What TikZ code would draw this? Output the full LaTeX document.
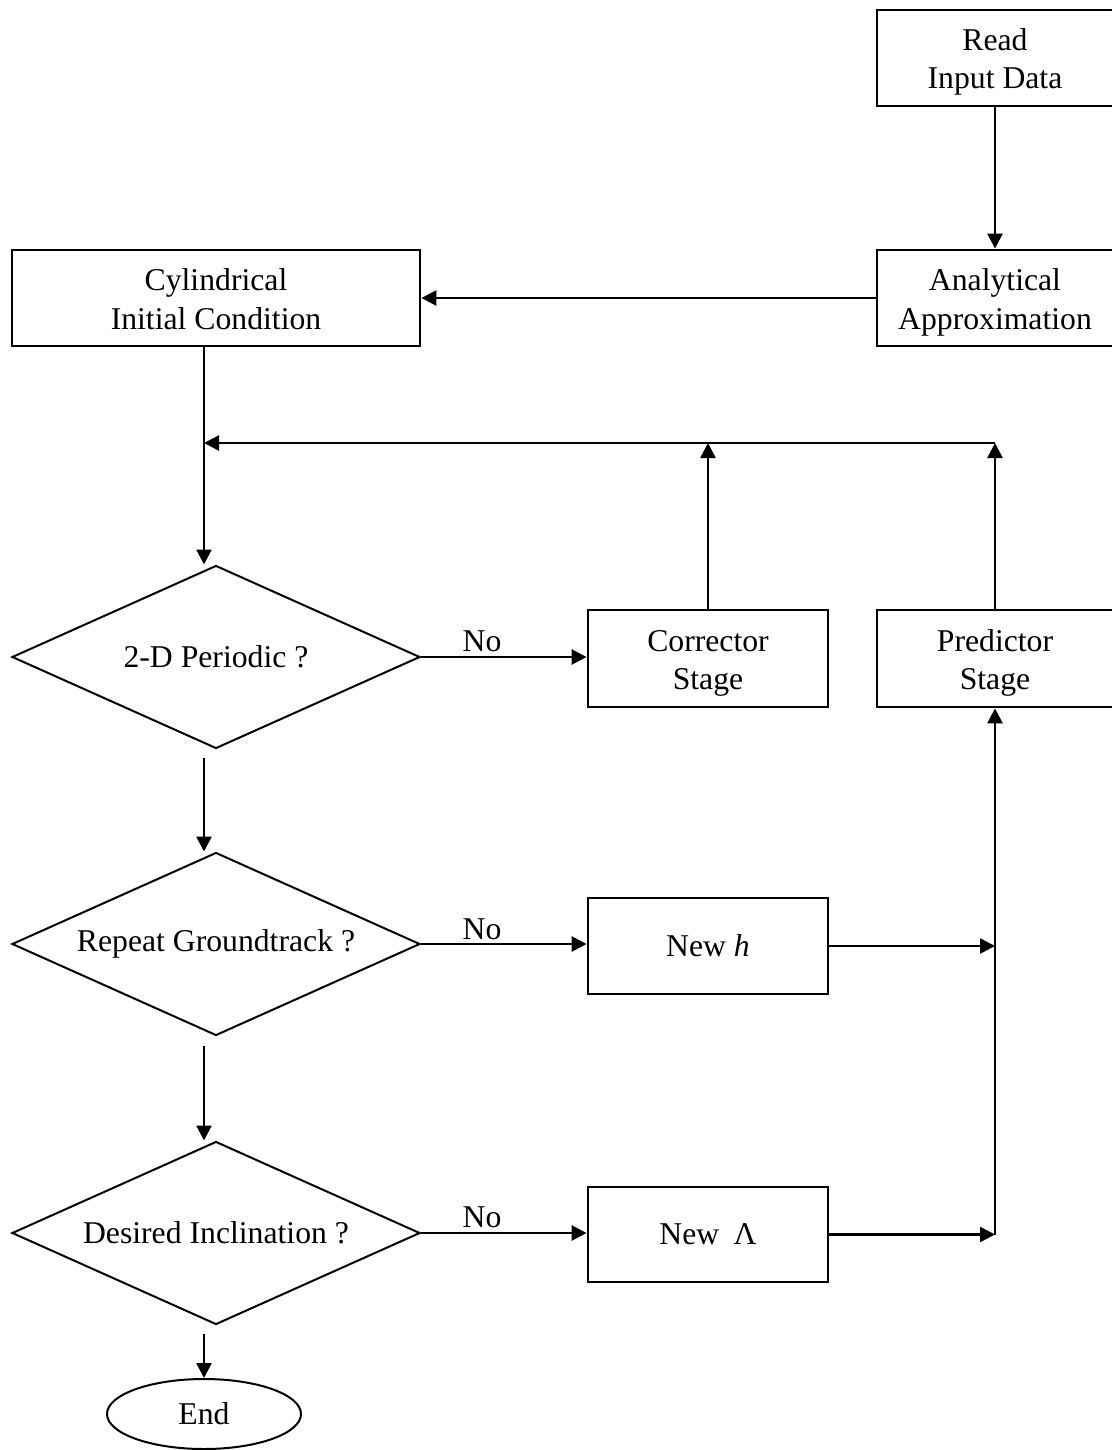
\documentclass[tikz,border=0pt]{standalone}
\usepackage{fontspec}
\setmainfont{Liberation Serif}
\usetikzlibrary{shapes.geometric,arrows.meta}
\begin{document}
\begin{tikzpicture}[x=1pt,y=-1pt,
  every node/.style={font=\fontsize{31.7}{38.5}\selectfont, inner sep=0pt, align=center},
  box/.style={draw, line width=2.8pt, rectangle, minimum height=96pt},
  twoline/.style={text height=62pt, text depth=0pt},
  decision/.style={draw, diamond, aspect=2.23, minimum width=408pt, minimum height=183pt, line width=2pt},
  terminal/.style={draw, ellipse, minimum width=194pt, minimum height=70pt, line width=2pt},
  lbl/.style={},
  arr/.style={line width=2.6pt, -{Triangle[length=15pt,width=15pt]}}
]
\useasboundingbox (0,0) rectangle (1111,1450);

% nodes
\node[box, twoline, minimum width=236pt] (read) at (995,58) {Read\\Input Data};
\node[box, twoline, minimum width=236pt] (ana) at (995,298) {Analytical\\Approximation};
\node[box, twoline, minimum width=408pt] (cyl) at (216,298) {Cylindrical\\Initial Condition};
\node[box, twoline, minimum width=240pt, minimum height=97pt] (corr) at (708,658.5) {Corrector\\Stage};
\node[box, twoline, minimum width=236pt, minimum height=97pt] (pred) at (995,658.5) {Predictor\\Stage};
\node[box, minimum width=240pt] (newh) at (708,946) {New \textit{h}};
\node[box, minimum width=240pt, minimum height=95pt] (newl) at (708,1234.5) {New\hspace{0.45em}Λ};
\node[decision] (d1) at (216,657) {2-D Periodic ?};
\node[decision] (d2) at (216,944) {Repeat Groundtrack ?};
\node[decision] (d3) at (216,1233) {Desired Inclination ?};
\node[terminal] (end) at (204,1414) {End};
\node[lbl] (no1) at (482,641) {No};
\node[lbl] (no2) at (482,929) {No};
\node[lbl] (no3) at (482,1217) {No};

% junction coordinates
\coordinate (j0) at (204,443);
\coordinate (j2) at (995,443);

% connectors
\draw[arr] (read) -- (ana);
\draw[arr] (ana) -- (cyl);
\draw[arr] (cyl.south -| j0) -- (j0 |- d1.north);
\draw[arr] (j2) -- (j0);
\draw[arr] (corr) -- (corr |- j0);
\draw[arr] (pred) -- (j2);
\draw[arr] (d1.east) -- (d1.east -| corr.west);
\draw[arr] (d2.east) -- (d2.east -| newh.west);
\draw[arr] (d3.east) -- (d3.east -| newl.west);
\draw[arr] (newh.east) -- (newh.east -| j2);
\draw[arr] (newl.east) -- (newl.east -| j2);
\draw[arr] (newl.east -| j2) -- (pred.south);
\draw[arr] (d1.south -| j0) ++(0,8) -- (j0 |- d2.north);
\draw[arr] (d2.south -| j0) ++(0,9) -- (j0 |- d3.north);
\draw[arr] (d3.south -| j0) ++(0,8) -- (end);
\end{tikzpicture}
\end{document}
